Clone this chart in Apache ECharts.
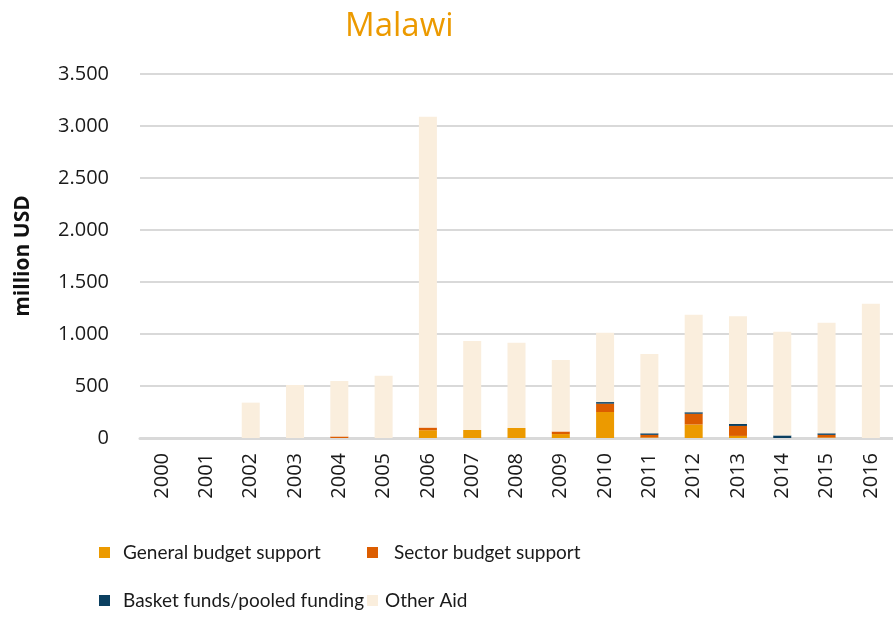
<!DOCTYPE html>
<html>
<head>
<meta charset="utf-8">
<title>Malawi</title>
<script src="https://cdn.jsdelivr.net/npm/echarts@6/dist/echarts.min.js"></script>
<style>
html,body{margin:0;padding:0;background:#fff;}
#main{width:893px;height:619px;}
</style>
</head>
<body>
<div id="main"></div>
<script>
var years=['2000','2001','2002','2003','2004','2005','2006','2007','2008','2009','2010','2011','2012','2013','2014','2015','2016'];
// million USD
var generalBudget=[0,0,0,0,0,0,75,77,96,38,250,5,130,20,0,5,0];
var sectorBudget=[0,0,0,0,15,0,25,0,0,25,80,25,103,96,0,25,0];
var basketFunds=[0,0,0,0,0,0,0,0,0,0,15,15,15,19,25,15,0];
var otherAid=[0,0,340,510,533,599,2990,856,821,687,668,763,938,1035,997,1064,1292];

var names=['General budget support','Sector budget support','Basket funds/pooled funding','Other Aid'];
var colors=['#ec9a00','#dc5d00','#0b3f60','#faeedd'];
var font='"Open Sans", sans-serif';
var legFont='Lato, "Open Sans", sans-serif';

var myChart=echarts.init(document.getElementById('main'));

function fmt(v){
	return String(v).replace(/\B(?=(\d{3})+(?!\d))/g,'.');
}

function mkLegend(name,left,top,gap){
	return {
		data:[name],
		left:left,top:top,
		padding:0,
		icon:'rect',
		itemWidth:11,itemHeight:11,
		textStyle:{fontFamily:legFont,fontSize:19,color:'#1a1a1a',padding:[0,0,0,gap]}
	};
}

function mkSeries(i,data){
	return {
		name:names[i],
		type:'bar',
		stack:'aid',
		barWidth:18,
		itemStyle:{color:colors[i]},
		data:data
	};
}

var option={
	animation:false,
	title:{
		text:'Malawi',
		left:340,top:5,
		textStyle:{fontFamily:font,fontSize:33,fontWeight:'normal',color:'#ec9a00'}
	},
	legend:[
		mkLegend(names[0],99,543,8),
		mkLegend(names[1],367,543,11),
		mkLegend(names[2],99,591,8),
		mkLegend(names[3],367,591,2)
	],
	grid:{left:140,right:-11,top:74,bottom:181,containLabel:false},
	xAxis:{
		type:'category',
		data:years,
		axisLine:{lineStyle:{color:'#d9d9d9',width:3}},
		axisTick:{show:false},
		axisLabel:{rotate:90,margin:15,fontFamily:font,fontSize:20,color:'#1a1a1a'}
	},
	yAxis:{
		type:'value',
		min:0,max:3500,interval:500,
		name:'million USD',
		nameLocation:'middle',
		nameRotate:90,
		nameGap:106,
		nameTextStyle:{fontFamily:font,fontSize:21,fontWeight:'bold',color:'#111'},
		axisLine:{show:false},
		axisTick:{show:false},
		splitLine:{lineStyle:{color:'#d9d9d9',width:2}},
		axisLabel:{margin:31,fontFamily:font,fontSize:20,color:'#1a1a1a',formatter:fmt}
	},
	series:[
		mkSeries(0,generalBudget),
		mkSeries(1,sectorBudget),
		mkSeries(2,basketFunds),
		mkSeries(3,otherAid)
	]
};

myChart.setOption(option);
</script>
</body>
</html>
